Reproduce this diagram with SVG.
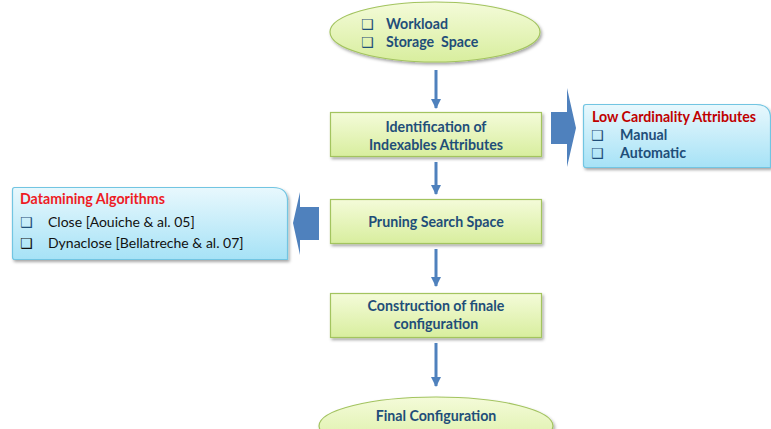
<svg xmlns="http://www.w3.org/2000/svg" width="771" height="429" viewBox="0 0 771 429">
  <defs>
    <linearGradient id="gGreen" x1="0" y1="0" x2="0" y2="1">
      <stop offset="0" stop-color="#f4fbd9"/>
      <stop offset="1" stop-color="#d8ee9e"/>
    </linearGradient>
    <linearGradient id="gBlue" x1="0" y1="0" x2="0" y2="1">
      <stop offset="0" stop-color="#e8f8fd"/>
      <stop offset="1" stop-color="#a6e2f6"/>
    </linearGradient>
    <filter id="shadow" x="-10%" y="-20%" width="120%" height="150%">
      <feDropShadow dx="1.5" dy="2" stdDeviation="1.5" flood-color="#000" flood-opacity="0.35"/>
    </filter>
    <marker id="head" viewBox="0 0 10 10" refX="9" refY="5" markerWidth="3.4" markerHeight="3.4" orient="auto" markerUnits="strokeWidth">
      <path d="M0,0 L10,5 L0,10 Z" fill="#4f81bd"/>
    </marker>
  </defs>
  <style>
    .green { fill: url(#gGreen); stroke: #a3c45f; stroke-width: 1.2; filter: url(#shadow); }
    .blue { fill: url(#gBlue); stroke: #72c5e2; stroke-width: 1.2; filter: url(#shadow); }
    .lbl { font-family: Lato, "Liberation Sans", sans-serif; font-weight: bold; font-size: 14.2px; fill: #1f4e79; }
    .mid { text-anchor: middle; }
    .cb { font-family: "DejaVu Sans", sans-serif; font-weight: bold; font-size: 14px; }
    .title { font-family: Lato, "Liberation Sans", sans-serif; font-weight: bold; font-size: 14.2px; }
    .plain { font-family: Lato, "Liberation Sans", sans-serif; font-size: 14px; fill: #111; }
    .conn { stroke: #4f81bd; stroke-width: 3; fill: none; marker-end: url(#head); }
    .big { fill: #4f81bd; }
  </style>

  <!-- inputs -->
  <g id="inputs">
    <ellipse class="green" cx="435" cy="32" rx="105" ry="30"/>
    <text class="cb" x="361" y="29" fill="#1f4e79">❑</text>
    <text class="lbl" x="386" y="29">Workload</text>
    <text class="cb" x="361" y="47" fill="#1f4e79">❑</text>
    <text class="lbl" x="386" y="47" xml:space="preserve">Storage  Space</text>
  </g>

  <!-- step 1 -->
  <g id="identification">
    <rect class="green" x="330.5" y="112.5" width="211" height="44"/>
    <text class="lbl mid" x="436" y="132">Identification of</text>
    <text class="lbl mid" x="436" y="150">Indexables Attributes</text>
  </g>

  <!-- step 2 -->
  <g id="pruning">
    <rect class="green" x="330.5" y="199.5" width="211" height="44"/>
    <text class="lbl mid" x="436" y="227">Pruning Search Space</text>
  </g>

  <!-- step 3 -->
  <g id="construction">
    <rect class="green" x="330.5" y="293.5" width="211" height="44"/>
    <text class="lbl mid" x="436" y="311">Construction of finale</text>
    <text class="lbl mid" x="436" y="329">configuration</text>
  </g>

  <!-- output -->
  <g id="final">
    <ellipse class="green" cx="436" cy="426" rx="117" ry="29"/>
    <text class="lbl mid" x="436" y="421">Final Configuration</text>
  </g>

  <!-- side note: low cardinality -->
  <g id="cardinality">
    <path class="blue" d="M586,104.5 H756 Q770.5,104.5 770.5,118 V167.5 H586 Q583.5,167.5 583.5,165 V107 Q583.5,104.5 586,104.5 Z"/>
    <text class="title" x="592" y="122" fill="#c00000">Low Cardinality Attributes</text>
    <text class="cb" x="591" y="140" fill="#1f4e79">❑</text>
    <text class="lbl" x="620" y="140">Manual</text>
    <text class="cb" x="591" y="158" fill="#1f4e79">❑</text>
    <text class="lbl" x="620" y="158">Automatic</text>
  </g>

  <!-- side note: datamining -->
  <g id="datamining">
    <path class="blue" d="M14.5,187.5 H273 Q287.5,187.5 287.5,201 V259.5 H14.5 Q12.5,259.5 12.5,257 V190 Q12.5,187.5 14.5,187.5 Z"/>
    <text class="title" x="20" y="204" font-size="15px" fill="#ee1c25">Datamining Algorithms</text>
    <text class="cb" x="20" y="227" fill="#1f4e79">❑</text>
    <text class="plain" x="48" y="227">Close [Aouiche &amp; al. 05]</text>
    <text class="cb" x="20" y="248" fill="#111">❑</text>
    <text class="plain" x="48" y="248">Dynaclose [Bellatreche &amp; al. 07]</text>
  </g>

  <!-- connectors -->
  <g id="connectors">
    <line class="conn" x1="436" y1="70" x2="436" y2="108"/>
    <line class="conn" x1="436" y1="162" x2="436" y2="194"/>
    <line class="conn" x1="436" y1="249" x2="436" y2="286"/>
    <line class="conn" x1="436" y1="343" x2="436" y2="386"/>
    <path class="big" d="M551,112 H567 V88 L576,128 L567,167 V144 H551 Z"/>
    <path class="big" d="M319,207 H300 V192 L293,223 L300,255 V240 H319 Z"/>
  </g>
</svg>
